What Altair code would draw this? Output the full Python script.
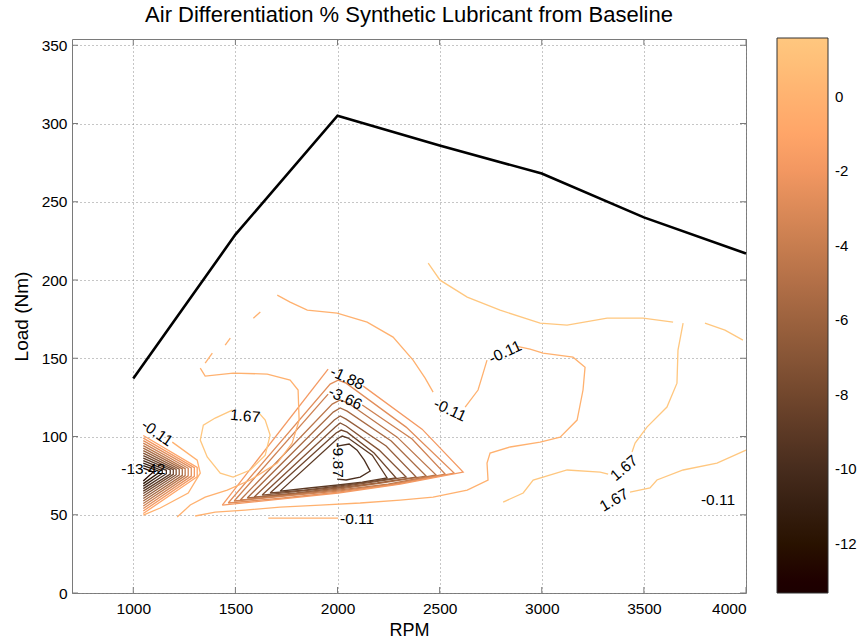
import altair as alt
import pandas as pd

TITLE = "Air Differentiation % Synthetic Lubricant from Baseline"
FONT = "Liberation Sans"

rpm_ticks = [1000, 1500, 2000, 2500, 3000, 3500, 4000]
load_ticks = [0, 50, 100, 150, 200, 250, 300, 350]
cbar_ticks = [0, -2, -4, -6, -8, -10, -12]

# full-load torque curve
torque_rpm = [1000, 1500, 2000, 2500, 3000, 3500, 4000]
torque_load = [137, 229, 305, 286, 268, 240, 217]

# contour paths: name -> (level, rpm values, load values)
paths = {
    # outer -0.11 contour looping right of the central pocket
    "c1a": (-0.11, [1705, 1768, 1852, 1998, 2145, 2272, 2370, 2429, 2468],
                   [190.3, 185.9, 180.7, 178.8, 173.1, 163.5, 148.8, 137.3, 128.4]),
    "c1b": (-0.11, [2625, 2688, 2713, 2732], [118.8, 129.7, 140.5, 148.8]),
    "c1c": (-0.11, [2874, 2943, 3006, 3153, 3212, 3202, 3173, 3090, 2992, 2845, 2747, 2732, 2737, 2635, 2468, 2307, 2111, 1915, 1719, 1548, 1401, 1303],
                   [157.8, 155.8, 153.3, 150.7, 144.3, 129.7, 110.5, 99.6, 96.4, 93.3, 89.4, 83.0, 72.2, 65.8, 61.3, 59.4, 57.5, 56.2, 54.9, 53.0, 51.7, 49.2]),
    # contour around the positive pocket at 1500 rpm
    "c2d1": (-0.11, [1622, 1588], [179.5, 175.6]),
    "c2d2": (-0.11, [1475, 1450], [162.9, 158.4]),
    "c2d3": (-0.11, [1387, 1352], [153.3, 146.9]),
    "c2": (-0.11, [1328, 1352, 1489, 1656, 1768, 1807, 1812, 1778, 1705, 1573, 1460, 1352, 1279, 1215],
                  [143.7, 138.6, 140.5, 139.9, 136.0, 129.7, 110.5, 95.8, 83.0, 72.2, 65.8, 61.3, 56.2, 48.5]),
    "p1": (1.67, [1485, 1401, 1343, 1328, 1362, 1426, 1489, 1573, 1646, 1670, 1646, 1612],
                 [116.9, 111.8, 107.3, 97.7, 86.9, 76.6, 74.1, 78.6, 88.1, 100.9, 110.5, 115.6]),
    "bot": (-0.11, [1661, 1830, 2003], [47.9, 47.9, 47.9]),
    # right-hand side, high speed
    "r1": (1.67, [2444, 2502, 2635, 2796, 2992, 3124, 3320, 3496, 3643],
                 [210.8, 199.9, 189.1, 180.7, 172.4, 171.2, 175.6, 175.6, 173.1]),
    "r1b": (1.67, [3799, 3897, 3985], [172.4, 168.0, 161.6]),
    "r2a": (1.67, [3692, 3667, 3662, 3613, 3515, 3457, 3442],
                  [172.4, 155.2, 134.1, 118.8, 106.0, 95.8, 90.1]),
    "r2b": (1.67, [3325, 3286, 3124, 2958, 2909, 2811],
                  [76.0, 77.3, 78.6, 72.2, 63.9, 58.1]),
    "r3": (1.67, [3432, 3530, 3564, 3692, 3858, 4000], [64.5, 67.1, 72.2, 78.6, 83.0, 91.3]),
    # low-speed pocket at 1000-1300 rpm
    "l00": (-0.11, [1191, 1313, 1328, 1269, 1132, 1049], [96.4, 84.9, 76.6, 63.9, 54.3, 49.8]),
    "l01": (-0.99, [1049, 1313, 1313, 1049], [100.6, 80.3, 74.3, 50.8]),
    "l02": (-1.88, [1049, 1299, 1299, 1049], [99.0, 80.1, 74.5, 52.4]),
    "l03": (-2.77, [1049, 1284, 1284, 1049], [97.4, 79.9, 74.7, 54.0]),
    "l04": (-3.66, [1049, 1269, 1269, 1049], [95.8, 79.7, 74.9, 55.6]),
    "l05": (-4.55, [1049, 1254, 1254, 1049], [94.2, 79.5, 75.0, 57.2]),
    "l06": (-5.43, [1049, 1240, 1240, 1049], [92.6, 79.3, 75.2, 58.8]),
    "l07": (-6.32, [1049, 1225, 1225, 1049], [91.0, 79.1, 75.4, 60.4]),
    "l08": (-7.21, [1049, 1210, 1210, 1049], [89.4, 78.9, 75.6, 62.0]),
    "l09": (-8.10, [1049, 1196, 1196, 1049], [87.8, 78.8, 75.8, 63.6]),
    "l10": (-8.99, [1049, 1181, 1181, 1049], [86.2, 78.6, 76.0, 65.1]),
    "l11": (-9.87, [1049, 1162, 1162, 1049], [84.6, 78.4, 76.2, 66.7]),
    "l12": (-10.76, [1049, 1142, 1142, 1049], [83.0, 78.2, 76.4, 68.3]),
    "l13": (-11.65, [1049, 1122, 1122, 1049], [81.4, 78.0, 76.6, 69.9]),
    "l14": (-12.54, [1049, 1098, 1049], [79.8, 77.3, 71.5]),
    # central pocket at 2000 rpm
    "k02a": (-1.88, [1436, 1954], [56.2, 143.1]),
    "k02b": (-1.88, [2126, 2414, 2615, 2307, 2003, 1719, 1436], [132.2, 104.7, 77.3, 69.6, 63.9, 60.0, 56.2]),
    "k03": (-2.77, [1465, 1964, 2003, 2042, 2336, 2571, 2287, 2003, 1734, 1465],
                   [57.5, 133.5, 136.0, 134.1, 106.0, 76.6, 69.6, 64.5, 60.7, 57.5]),
    "k04a": (-3.66, [1494, 1954], [58.8, 127.1]),
    "k04b": (-3.66, [2121, 2365, 2527, 2268, 2003, 1749, 1494], [120.1, 98.4, 76.0, 69.6, 65.1, 62.0, 58.8]),
    "k05": (-4.55, [1524, 1974, 2013, 2052, 2292, 2483, 2248, 2003, 1763, 1524],
                   [59.4, 120.7, 123.3, 121.4, 99.6, 75.4, 69.6, 65.8, 62.6, 59.4]),
    "k06": (-5.43, [1558, 1979, 2013, 2047, 2263, 2434, 2219, 2003, 1778, 1558],
                   [60.7, 115.6, 118.2, 116.2, 97.1, 74.7, 70.3, 66.4, 63.2, 60.7]),
    "k07": (-6.32, [1592, 1984, 2013, 2042, 2238, 2385, 2194, 2003, 1798, 1592],
                   [61.3, 110.5, 113.1, 111.1, 93.9, 74.1, 70.3, 67.1, 63.9, 61.3]),
    "k08": (-7.21, [1631, 1989, 2013, 2042, 2204, 2336, 2170, 2003, 1817, 1631],
                   [62.6, 106.0, 108.6, 106.7, 91.3, 74.1, 70.9, 67.7, 65.1, 62.6]),
    "k09": (-8.10, [1670, 1993, 2018, 2047, 2179, 2287, 2145, 2003, 1837, 1670],
                   [63.9, 102.2, 104.1, 102.8, 89.4, 73.5, 70.9, 68.3, 65.8, 63.9]),
    "k10": (-8.99, [1719, 1998, 2023, 2052, 2170, 2243, 2121, 2003, 1861, 1719],
                   [65.1, 98.4, 100.3, 99.0, 88.1, 73.5, 70.9, 69.0, 67.1, 65.1]),
    "k11": (-9.87, [1998, 2057, 2096, 2131, 2160, 2111, 2042, 1998],
                   [93.9, 95.2, 91.3, 84.9, 77.9, 74.1, 72.2, 72.8]),
}

# contour labels
label_text = ["-0.11", "-13.42", "1.67", "-1.88", "-3.66", "-9.87", "-0.11", "-0.11", "-0.11", "1.67", "1.67", "-0.11"]
label_rpm = [1117, 1049, 1548, 2047, 2038, 2003, 2096, 2551, 2821, 3403, 3354, 3863]
label_load = [102.2, 79.2, 113.0, 137.3, 124.5, 84.9, 47.3, 116.9, 153.9, 79.8, 59.4, 59.4]
label_angle = [35, 0, 5, 25, 25, 90, 0, 25, 335, 320, 330, 0]

# darker levels first so the lighter contours are drawn on top
ordered = sorted(paths.items(), key=lambda kv: (kv[1][0], kv[0]))
rows = []
for rank, (name, (lev, xs, ys)) in enumerate(ordered):
    key = f"{rank:03d}_{name}"
    for i, (x, y) in enumerate(zip(xs, ys)):
        rows.append({"path": key, "level": lev, "rpm": x, "load": y, "seq": i})
contour_df = pd.DataFrame(rows)
torque_df = pd.DataFrame({"rpm": torque_rpm, "load": torque_load})
label_df = pd.DataFrame({"text": label_text, "rpm": label_rpm, "load": label_load, "angle": label_angle})
xtick_df = pd.DataFrame({"rpm": rpm_ticks})
ytick_df = pd.DataFrame({"load": load_ticks})

# copper colormap
cmin, cmax = -13.32, 1.58
stops = [cmin + k * (cmax - cmin) / 5 for k in range(6)]
copper = ["#000000", "#40281a", "#805033", "#bf784c", "#ff9f66", "#ffc77f"]
color_scale = alt.Scale(domain=stops, range=copper, clamp=True)

x_enc = alt.X(
    "rpm:Q",
    scale=alt.Scale(domain=[700, 4000], nice=False, zero=False),
    axis=alt.Axis(values=rpm_ticks, title="RPM", grid=True, gridDash=[1, 3], gridColor="#8c8c8c",
                  domain=False, ticks=False, labelPadding=8, labelFontSize=15.5, titleFontSize=18,
                  titleFontWeight="normal", titlePadding=5, labelColor="#000", titleColor="#000",
                  format="d"),
)
y_enc = alt.Y(
    "load:Q",
    scale=alt.Scale(domain=[0, 354], nice=False),
    axis=alt.Axis(values=load_ticks, title="Load (Nm)", grid=True, gridDash=[1, 3], gridColor="#8c8c8c",
                  domain=False, ticks=False, labelPadding=5, labelFontSize=15.5, titleFontSize=19,
                  titleFontWeight="normal", titleX=-51, titleBaseline="middle", labelColor="#000",
                  titleColor="#000"),
)

contours = alt.Chart(contour_df).mark_line(strokeWidth=1.3).encode(
    x=x_enc,
    y=y_enc,
    detail="path:N",
    order="seq:Q",
    color=alt.Color(
        "level:Q",
        scale=color_scale,
        legend=alt.Legend(
            orient="none", legendX=705, legendY=-1, direction="vertical", title=None,
            gradientLength=555, gradientThickness=51, gradientStrokeColor="#333",
            gradientStrokeWidth=1, values=cbar_ticks, labelFontSize=15, labelOffset=7,
            labelColor="#000", labelExpr="'' + datum.value",
        ),
    ),
)

# inward tick marks on all four sides of the box
tick_color = "#7a7a7a"
ticks_bottom = alt.Chart(xtick_df).mark_rule(color=tick_color).encode(
    x="rpm:Q", y=alt.value(554), y2=alt.value(548))
ticks_top = alt.Chart(xtick_df).mark_rule(color=tick_color).encode(
    x="rpm:Q", y=alt.value(0), y2=alt.value(6))
ticks_left = alt.Chart(ytick_df).mark_rule(color=tick_color).encode(
    y="load:Q", x=alt.value(0), x2=alt.value(6))
ticks_right = alt.Chart(ytick_df).mark_rule(color=tick_color).encode(
    y="load:Q", x=alt.value(674), x2=alt.value(668))

torque = alt.Chart(torque_df).mark_line(color="#000", strokeWidth=2.6).encode(x="rpm:Q", y="load:Q")

labels = alt.Chart(label_df).mark_text(fontSize=15.5, color="#000", font=FONT).encode(
    x="rpm:Q", y="load:Q", text="text:N", angle=alt.Angle("angle:Q", scale=None)
)

chart = (
    alt.layer(contours, ticks_bottom, ticks_top, ticks_left, ticks_right, torque, labels)
    .properties(
        width=674,
        height=554,
        title=alt.TitleParams(TITLE, fontSize=22, fontWeight="normal", anchor="middle", offset=11, font=FONT),
        autosize=alt.AutoSizeParams(type="none"),
        padding={"left": 72, "top": 39, "right": 114, "bottom": 48},
    )
    .configure(font=FONT)
    .configure_view(stroke="#7a7a7a", strokeWidth=1)
)

chart.save("out.html", embed_options={"renderer": "svg", "actions": False})
